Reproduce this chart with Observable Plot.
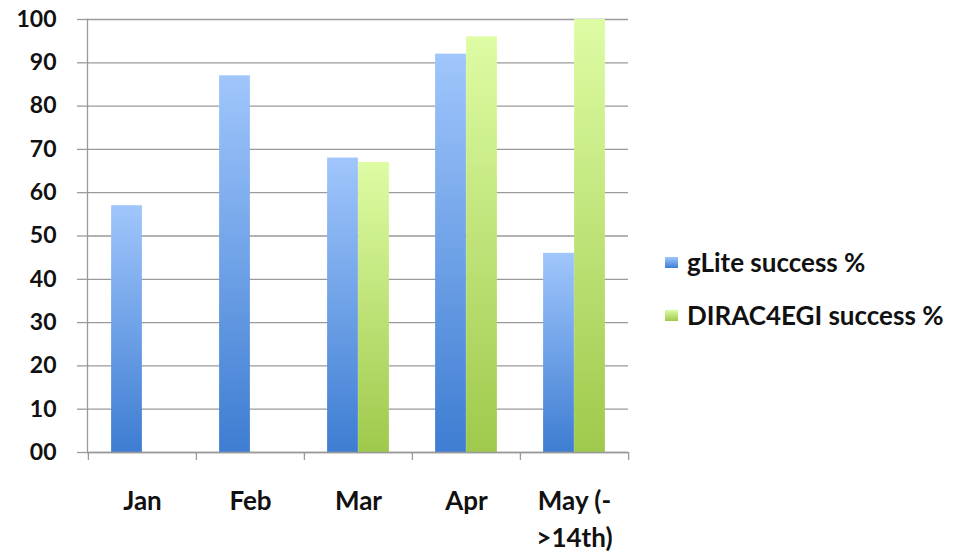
<!DOCTYPE html>
<html>
<head>
<meta charset="utf-8">
<script src="https://cdn.jsdelivr.net/npm/d3@7"></script>
<script src="https://cdn.jsdelivr.net/npm/@observablehq/plot@0.6"></script>
<style>
  html, body { margin: 0; padding: 0; background: #fff; }
  #wrap { position: relative; width: 958px; height: 553px; font-family: Lato, "Open Sans", sans-serif; font-weight: bold; }
  .legend { position: absolute; left: 665px; font-size: 26px; line-height: 30px; color: #111; display: flex; align-items: center; white-space: nowrap; }
  .legend .sw { width: 13px; height: 11px; margin-right: 9px; }
</style>
</head>
<body>
<div id="wrap"></div>
<script>
const months = ["Jan", "Feb", "Mar", "Apr", "May (-\n>14th)"];
const gliteValues = [57, 87, 68, 92, 46];
const diracValues = [null, null, 67, 96, 100];
const yTicks = [0, 10, 20, 30, 40, 50, 60, 70, 80, 90, 100];
const seriesNames = ["gLite success %", "DIRAC4EGI success %"];

const glite = months.map((m, i) => ({month: m, value: gliteValues[i]}));
const dirac = months.map((m, i) => ({month: m, value: diracValues[i]})).filter(d => d.value != null);

const W = 958, H = 553, mL = 87, mR = 330, mT = 19, mB = 101;
const bw = (W - mL - mR) / months.length;
const barW = 31;

const defs = () => {
  const g = d3.create("svg:defs");
  const mk = (id, top, bot) => {
    const lg = g.append("linearGradient").attr("id", id).attr("x1", 0).attr("y1", 0).attr("x2", 0).attr("y2", 1);
    lg.append("stop").attr("offset", "0%").attr("stop-color", top);
    lg.append("stop").attr("offset", "100%").attr("stop-color", bot);
  };
  mk("gBlue", "#a0c6fc", "#3e7dd2");
  mk("gGreen", "#defca4", "#9fc94c");
  return g.node();
};

const chart = Plot.plot({
  width: W, height: H,
  marginLeft: mL, marginRight: mR, marginTop: mT, marginBottom: mB,
  style: {fontFamily: "Lato, 'Open Sans', sans-serif", fontWeight: "bold", color: "#111", background: "#fff"},
  x: {domain: months, padding: 0, label: null},
  y: {domain: [0, 100], label: null},
  marks: [
    defs,
    Plot.gridY(yTicks, {stroke: "#9a9a9a", strokeOpacity: 1, strokeWidth: 1.3}),
    Plot.axisY(yTicks, {tickFormat: d3.format("02d"), tickSize: 10, tickPadding: 21, fontSize: 23, stroke: "#9a9a9a", strokeWidth: 1.3, label: null}),
    Plot.barY(glite, {x: "month", y: "value", fill: "url(#gBlue)", insetLeft: bw / 2 - barW, insetRight: bw / 2}),
    Plot.barY(dirac, {x: "month", y: "value", fill: "url(#gGreen)", insetLeft: bw / 2, insetRight: bw / 2 - barW}),
    Plot.ruleX(months, {x: d => d, dx: -bw / 2, y1: 0, y2: 0, insetBottom: -8, stroke: "#9a9a9a", strokeWidth: 1.3}),
    Plot.ruleX(months.slice(-1), {x: d => d, dx: bw / 2, y1: 0, y2: 0, insetBottom: -8, stroke: "#9a9a9a", strokeWidth: 1.3}),
    Plot.axisX({tickSize: 0, tickPadding: 31, fontSize: 26, lineHeight: 1.42, label: null}),
    Plot.frame({anchor: "left", stroke: "#9a9a9a", strokeWidth: 1.3}),
    Plot.ruleY([0], {stroke: "#9a9a9a", strokeWidth: 1.3})
  ]
});

const wrap = document.getElementById("wrap");
wrap.appendChild(chart);
const legColors = ["linear-gradient(#a0c6fc,#3e7dd2)", "linear-gradient(#defca4,#9fc94c)"];
const legTops = [247, 300];
seriesNames.forEach((name, i) => {
  const d = document.createElement("div");
  d.className = "legend";
  d.style.top = legTops[i] + "px";
  d.innerHTML = `<span class="sw" style="background:${legColors[i]}"></span><span>${name}</span>`;
  wrap.appendChild(d);
});
</script>
</body>
</html>
